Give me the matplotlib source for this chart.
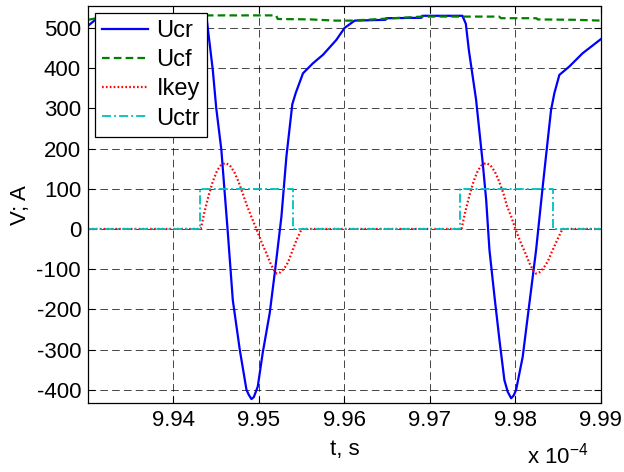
import matplotlib
matplotlib.use("Agg")
import matplotlib.pyplot as plt
from matplotlib.ticker import FormatStrFormatter

plt.rcParams['font.family'] = ['Liberation Sans', 'DejaVu Sans']
plt.rcParams['mathtext.fontset'] = 'custom'
plt.rcParams['mathtext.rm'] = 'Liberation Sans'
plt.rcParams['lines.scale_dashes'] = False
plt.rcParams['axes.unicode_minus'] = False

# time in units of 1e-4 s
t_ucr = [9.9300, 9.9304, 9.9308, 9.9330, 9.9400, 9.9436, 9.9439, 9.9446, 9.9450,
         9.9456, 9.94636, 9.94694, 9.94776, 9.94854, 9.9488, 9.94912, 9.9494,
         9.94986, 9.95044, 9.95126, 9.95185, 9.95263, 9.95321, 9.95390, 9.9543,
         9.95515, 9.95632, 9.95749, 9.95905, 9.96002, 9.9612, 9.9648, 9.9649,
         9.9690, 9.9691, 9.9738, 9.9742, 9.97455, 9.9754, 9.97618, 9.97658,
         9.97696, 9.97755, 9.97813, 9.97871, 9.9791, 9.97950, 9.9798, 9.98008,
         9.98085, 9.98164, 9.98242, 9.98319, 9.98378, 9.98417, 9.98456, 9.98514,
         9.98631, 9.98787, 9.9900]
ucr = [505, 512, 519, 521, 523, 525, 520, 395, 301,
       197, -10, -177, -301, -400, -412, -423, -418,
       -392, -308, -209, -109, 31, 180, 310, 338,
       387, 412, 433, 470, 500, 518, 520, 524,
       525, 530, 530, 510, 445, 321, 163, 72,
       -52, -168, -276, -376, -405, -421, -414, -400,
       -318, -184, -52, 105, 221, 296, 338, 383,
       404, 437, 472]

t_ucf = [9.9300, 9.9310, 9.9430, 9.9440, 9.9520, 9.9522, 9.9560, 9.9590, 9.9608,
         9.9691, 9.9781, 9.9783, 9.98245, 9.9826, 9.9870, 9.9900]
ucf = [520, 524, 530, 531, 531, 522, 521, 518, 518,
       528, 528, 524, 524, 521, 520, 518]

t_ikey = [9.9300, 9.9432, 9.9436, 9.9441, 9.9446, 9.9451, 9.9456, 9.9461, 9.9466,
          9.9471, 9.9476, 9.9481, 9.9486, 9.9491, 9.9497, 9.9503, 9.9509, 9.9514,
          9.9518, 9.9521, 9.9525, 9.9530, 9.9534, 9.9539, 9.9544, 9.9550,
          9.9737, 9.9741, 9.9746, 9.9751, 9.9756, 9.9761, 9.9766, 9.9771,
          9.9776, 9.9781, 9.9786, 9.9790, 9.9795, 9.9800, 9.9806, 9.9812, 9.9817,
          9.9821, 9.9824, 9.9828, 9.9833, 9.9838, 9.9843, 9.9849, 9.9855, 9.9900]
ikey = [0, 0, 40, 82, 118, 145, 160, 164, 158,
        142, 118, 88, 58, 31, 0, -33, -62, -88,
        -104, -111, -108, -97, -83, -55, -27, 0,
        0, 40, 82, 118, 145, 160, 164, 158,
        142, 118, 88, 58, 31, 0, -33, -62, -88,
        -104, -111, -108, -97, -80, -55, -27, 0, 0]

t_uctr = [9.9300, 9.94308, 9.95398, 9.97354, 9.98444, 9.9900]
uctr = [0, 100, 0, 100, 0, 0]

x_ticks = [9.94, 9.95, 9.96, 9.97, 9.98, 9.99]
y_ticks = [-400, -300, -200, -100, 0, 100, 200, 300, 400, 500]

fig = plt.figure(figsize=(6.24, 4.72), dpi=100)
ax = fig.add_axes([0.141, 0.146, 0.822, 0.841])

ax.plot(t_ucr, ucr, color='#0000ff', lw=1.6, label='Ucr')
ax.plot(t_ucf, ucf, color='#008000', lw=1.6, linestyle=(0, (5.5, 3)), label='Ucf')
ax.plot(t_ikey, ikey, color='#ff0000', lw=1.6, linestyle=(0, (1.2, 1.6)), label='Ikey')
ax.plot(t_uctr, uctr, color='#00bfbf', lw=1.3, drawstyle='steps-post',
        linestyle=(0, (6.5, 2.2, 1.4, 2.2)), label='Uctr')

ax.set_xlim(9.93, 9.99)
ax.set_ylim(-433, 554)
ax.set_xticks(x_ticks)
ax.set_yticks(y_ticks)
ax.xaxis.set_major_formatter(FormatStrFormatter('%.2f'))
ax.tick_params(direction='in', top=True, right=True, length=5, width=0.8,
               labelsize=16, pad=5)
for s in ax.spines.values():
    s.set_linewidth(0.9)
ax.grid(True, color='k', linestyle=(0, (5.5, 3)), linewidth=0.6, alpha=0.85)

ax.set_xlabel('t, s', fontsize=16, labelpad=6)
ax.set_ylabel('V; A', fontsize=16, labelpad=4)
fig.text(0.845, 0.019, r'x 10$^{-4}$', fontsize=16, va='baseline', ha='left')

leg = ax.legend(loc='upper left', fontsize=17, fancybox=False, framealpha=1,
                edgecolor='k', borderpad=0.3, labelspacing=0.3, handlelength=1.95,
                handletextpad=0.35, borderaxespad=0.3)
leg.get_frame().set_linewidth(0.9)

fig.savefig('out.png', dpi=100)
